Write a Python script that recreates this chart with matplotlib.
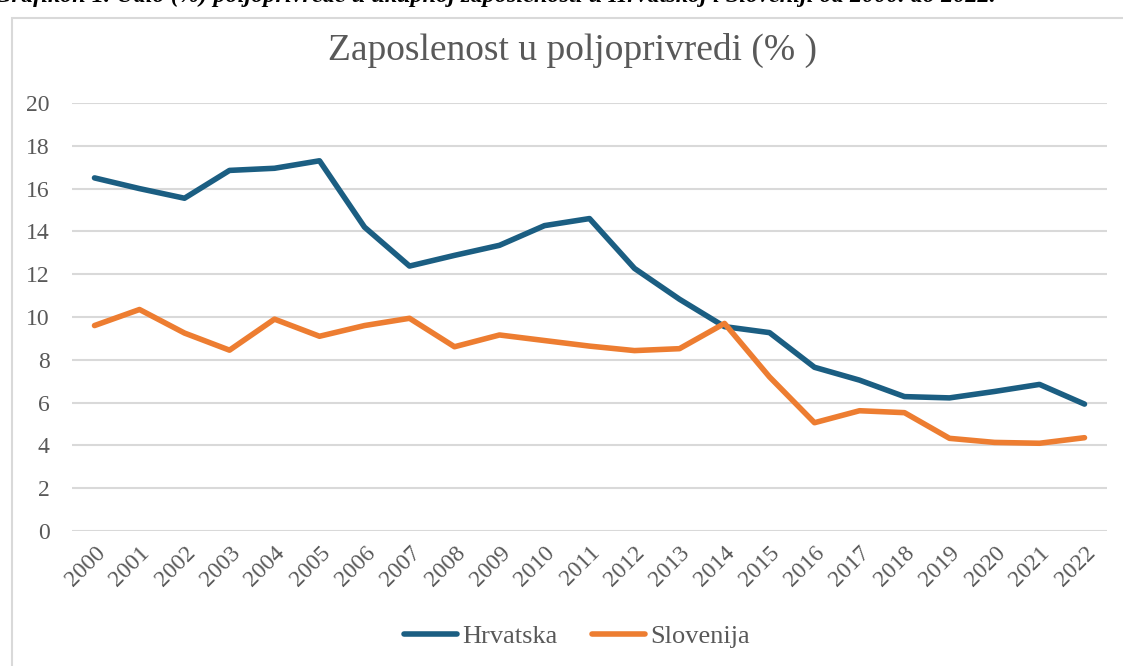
import matplotlib.pyplot as plt
from matplotlib.patches import Rectangle

years = [str(y) for y in range(2000, 2023)]
hrvatska = [16.5, 16.0, 15.55, 16.85, 16.95, 17.3, 14.2, 12.38, 12.88, 13.35,
            14.27, 14.6, 12.27, 10.83, 9.55, 9.27, 7.65, 7.05, 6.28, 6.22,
            6.52, 6.85, 5.93]
slovenija = [9.6, 10.35, 9.25, 8.45, 9.9, 9.1, 9.6, 9.94, 8.61, 9.16,
             8.9, 8.64, 8.43, 8.52, 9.7, 7.2, 5.06, 5.62, 5.53, 4.33,
             4.14, 4.1, 4.36]
y_ticks = list(range(0, 21, 2))

serif = ["Liberation Serif", "DejaVu Serif"]
grey_text = "#595959"

fig = plt.figure(figsize=(11.23, 6.66), dpi=100)

# chart frame, partly cut off at the right and bottom
fig.patches.append(Rectangle((12 / 1123, -0.1), 1.2, 1 - 18 / 666 + 0.1,
                             transform=fig.transFigure, fill=False,
                             edgecolor="#d9d9d9", linewidth=1.5))

# caption line above the chart, clipped by the top edge as in the source
fig.text(-0.005, 1.0 + 4 / 666,
         "Grafikon 1. Udio (%) poljoprivrede u ukupnoj zaposlenosti u Hrvatskoj i Sloveniji od 2000. do 2022.",
         ha="left", va="center", fontsize=17.5, style="italic", weight="bold",
         family=serif, color="black")

ax = fig.add_axes([72 / 1123, 1 - 531 / 666, (1107 - 72) / 1123, (531 - 103) / 666])
x = range(len(years))
ax.plot(x, hrvatska, color="#1b5e82", linewidth=4, label="Hrvatska",
        solid_capstyle="round", solid_joinstyle="round")
ax.plot(x, slovenija, color="#ed7d31", linewidth=4, label="Slovenija",
        solid_capstyle="round", solid_joinstyle="round")

ax.set_xlim(-0.5, len(years) - 0.5)
ax.set_ylim(0, 20)
ax.set_yticks(y_ticks)
ax.set_xticks(list(x))
ax.set_xticklabels(years, rotation=45, ha="right", rotation_mode="anchor")
ax.grid(axis="y", color="#d9d9d9", linewidth=1.5)
ax.set_axisbelow(True)
for s in ax.spines.values():
    s.set_visible(False)
ax.tick_params(length=0, labelsize=17, labelcolor=grey_text, pad=8)
ax.tick_params(axis="y", pad=16)
for lab in ax.get_xticklabels() + ax.get_yticklabels():
    lab.set_family(serif)

fig.text(572 / 1123, 1 - 50 / 666, "Zaposlenost u poljoprivredi (% )",
         ha="center", va="center", fontsize=27, family=serif, color=grey_text)

leg = fig.legend(loc="center", bbox_to_anchor=(577 / 1123, 1 - 636 / 666),
                 ncol=2, frameon=False, prop={"family": serif, "size": 19},
                 handlelength=2.0, columnspacing=1.3, handletextpad=0.2)
for t in leg.get_texts():
    t.set_color(grey_text)

fig.savefig("out.png", dpi=100)
